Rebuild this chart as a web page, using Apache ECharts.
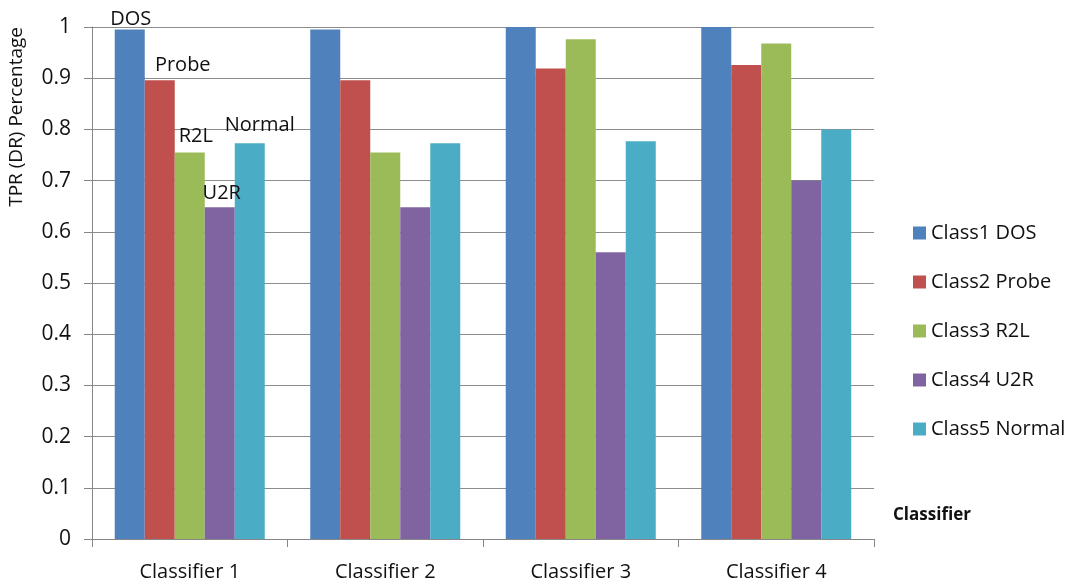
<!DOCTYPE html>
<html>
<head>
<meta charset="utf-8">
<script src="https://cdn.jsdelivr.net/npm/echarts@6/dist/echarts.min.js"></script>
<style>html,body{margin:0;padding:0;background:#fff}#c{width:1079px;height:587px}</style>
</head>
<body>
<div id="c"></div>
<script>
var categories = ['Classifier 1', 'Classifier 2', 'Classifier 3', 'Classifier 4'];
var seriesNames = ['Class1 DOS', 'Class2 Probe', 'Class3 R2L', 'Class4 U2R', 'Class5 Normal'];
var shortLabels = ['DOS', 'Probe', 'R2L', 'U2R', 'Normal'];
var dosValues = [0.995, 0.995, 1.0, 1.0];
var probeValues = [0.896, 0.896, 0.919, 0.926];
var r2lValues = [0.755, 0.755, 0.976, 0.968];
var u2rValues = [0.648, 0.648, 0.560, 0.700];
var normalValues = [0.773, 0.773, 0.777, 0.800];
var yTicks = [0, 0.1, 0.2, 0.3, 0.4, 0.5, 0.6, 0.7, 0.8, 0.9, 1];

var colors = ['#4F81BD', '#C0504D', '#9BBB59', '#8064A2', '#4BACC6'];
var allValues = [dosValues, probeValues, r2lValues, u2rValues, normalValues];
// label placement for the first group's data labels
var labelStyle = [
  {distance: 0, offset: [1, 0]},
  {distance: 5, offset: [23, 0]},
  {distance: 6, offset: [6, 0]},
  {distance: 4, offset: [2, 0]},
  {distance: 8, offset: [10, 0]}
];
var FONT = 'Open Sans';
var series = allValues.map(function (vals, si) {
  return {
    name: seriesNames[si],
    type: 'bar',
    barWidth: 30,
    barGap: '0%',
    itemStyle: {color: colors[si]},
    data: vals.map(function (v, i) {
      var d = {value: v};
      if (i === 0) {
        d.label = {
          show: true, position: 'top',
          distance: labelStyle[si].distance,
          offset: labelStyle[si].offset,
          formatter: shortLabels[si],
          color: '#111', fontFamily: FONT, fontSize: 20
        };
      }
      return d;
    })
  };
});

var chart = echarts.init(document.getElementById('c'), null, {renderer: 'canvas'});
chart.setOption({
  animation: false,
  backgroundColor: '#fff',
  grid: {left: 92, right: 205, top: 27, bottom: 48, containLabel: false},
  legend: {
    orient: 'vertical', left: 908, top: 217,
    itemWidth: 13, itemHeight: 13, itemGap: 27,
    icon: 'rect',
    textStyle: {fontFamily: FONT, fontSize: 20, color: '#111', lineHeight: 22},
    data: seriesNames
  },
  xAxis: {
    type: 'category', data: categories,
    axisLine: {lineStyle: {color: '#868686', width: 1}},
    axisTick: {show: true, length: 8, lineStyle: {color: '#868686'}},
    axisLabel: {margin: 23, color: '#111', fontFamily: FONT, fontSize: 20}
  },
  yAxis: {
    type: 'value', min: 0, max: 1, interval: 0.1,
    axisLine: {show: true, lineStyle: {color: '#868686', width: 1}},
    axisTick: {show: true, length: 8, lineStyle: {color: '#868686'}},
    splitLine: {lineStyle: {color: '#8c8c8c', width: 1}},
    axisLabel: {
      margin: 21, color: '#111', fontFamily: FONT, fontSize: 21,
      formatter: function (v) {
        var best = yTicks.reduce(function (a, b) { return Math.abs(b - v) < Math.abs(a - v) ? b : a; });
        return String(best);
      }
    }
  },
  graphic: [
    {type: 'text', left: 7, top: 27, rotation: Math.PI / 2,
     style: {text: 'TPR (DR) Percentage', fontFamily: FONT, fontSize: 19, fill: '#111'}},
    {type: 'text', left: 893, top: 507,
     style: {text: 'Classifier', fontFamily: FONT, fontSize: 17, fontWeight: 'bold', fill: '#111'}}
  ],
  series: series
});
</script>
</body>
</html>
